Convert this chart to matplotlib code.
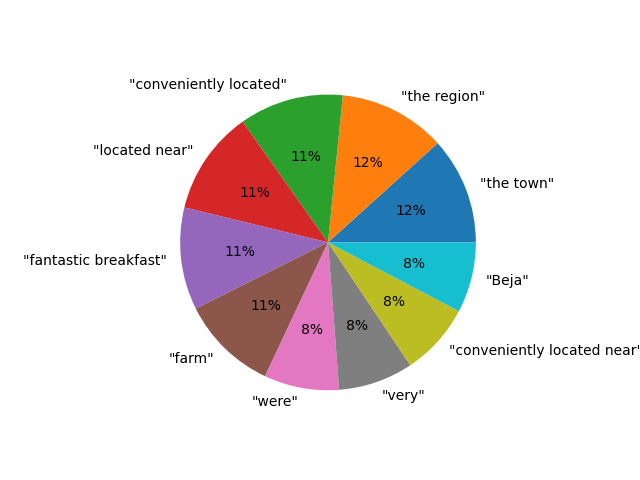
import matplotlib
matplotlib.use("Agg")
import matplotlib.pyplot as plt

labels = ['"the town"', '"the region"', '"conveniently located"', '"located near"',
          '"fantastic breakfast"', '"farm"', '"were"', '"very"',
          '"conveniently located near"', '"Beja"']
# shares
shares = [11.7, 11.7, 11.4, 11.4, 11.2, 10.6, 8.2, 8.2, 7.9, 7.7]

fig, ax = plt.subplots(figsize=(6.4, 4.8), dpi=100)
ax.pie(shares, labels=labels, autopct='%1.0f%%')
fig.savefig("out.png")
